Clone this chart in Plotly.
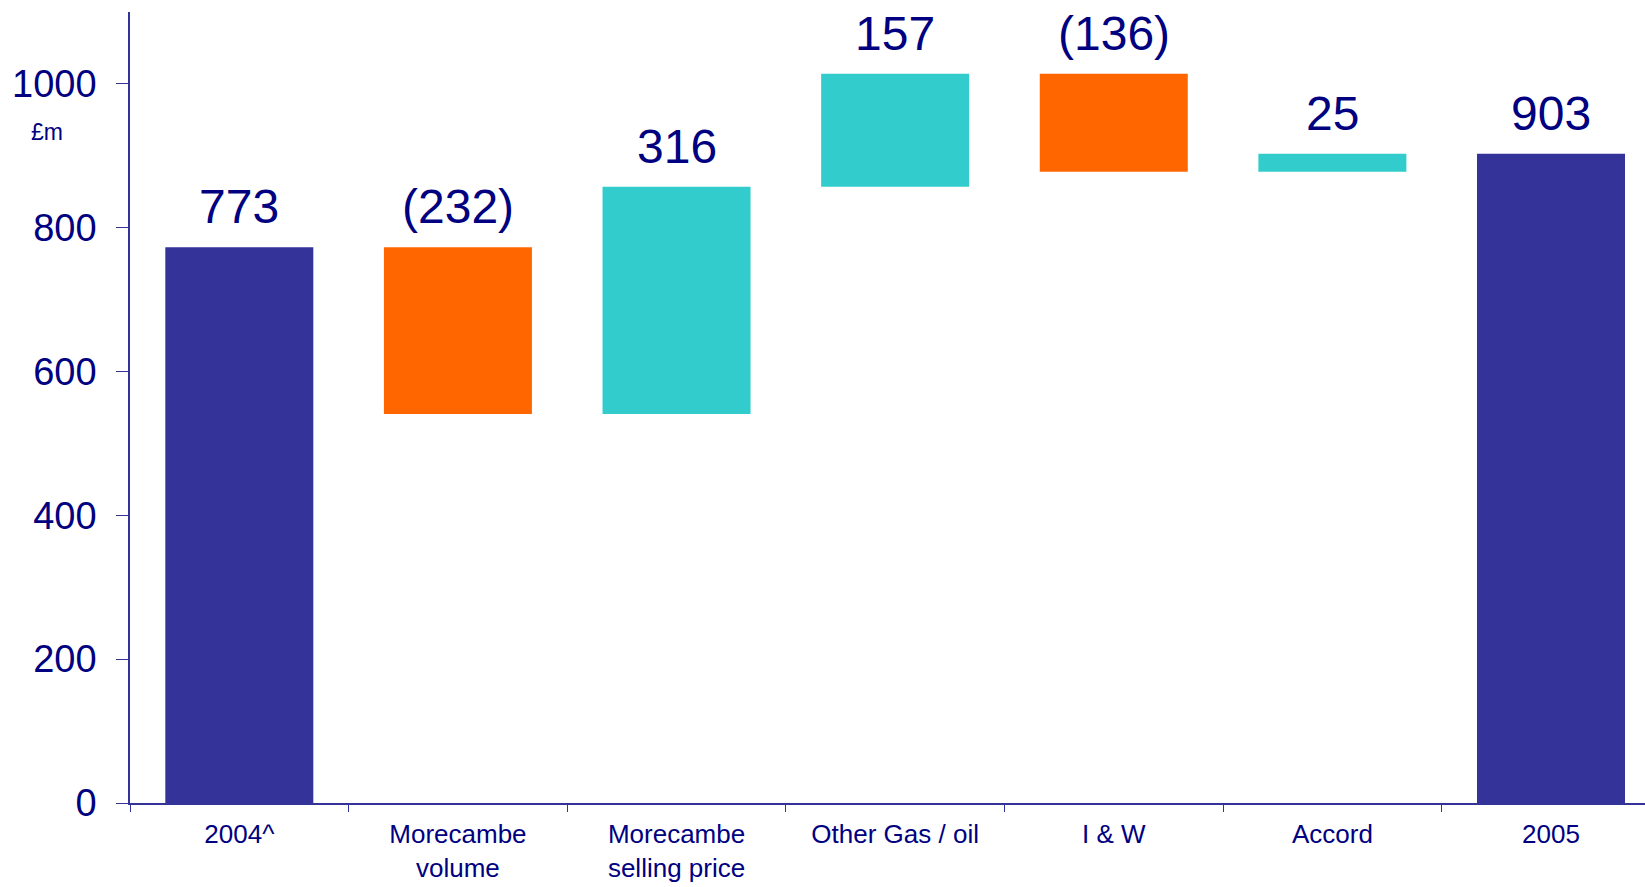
import plotly.graph_objects as go

# Operating profit bridge, £m
categories = ["2004^", "Morecambe<br>volume", "Morecambe<br>selling price",
              "Other Gas / oil", "I & W", "Accord", "2005"]
opening_total = 773
changes = [-232, 316, 157, -136, 25]
closing_total = 903
y_ticks = [0, 200, 400, 600, 800, 1000]

TOTAL_COL = "#333399"
UP_COL = "#33CCCC"
DOWN_COL = "#FF6600"
TEXT_COL = "#000080"
AXIS_COL = "#333399"
FONT = "Liberation Sans, Arial, sans-serif"

# Build floating bar bases / heights for the bridge
bases, heights, colors, labels, tops = [], [], [], [], []
bases.append(0); heights.append(opening_total); colors.append(TOTAL_COL)
labels.append(str(opening_total)); tops.append(opening_total)
running = opening_total
for d in changes:
    new = running + d
    bases.append(min(running, new))
    heights.append(abs(d))
    colors.append(UP_COL if d > 0 else DOWN_COL)
    labels.append(str(d) if d > 0 else f"({abs(d)})")
    tops.append(max(running, new))
    running = new
bases.append(0); heights.append(closing_total); colors.append(TOTAL_COL)
labels.append(str(closing_total)); tops.append(closing_total)

fig = go.Figure()
fig.add_trace(go.Bar(
    x=categories, y=heights, base=bases, width=0.677,
    marker=dict(color=colors, line=dict(width=0)),
    hoverinfo="skip", showlegend=False,
))

# Value labels above each bar (positioned by category index)
annotations = []
for i, (top, lab) in enumerate(zip(tops, labels)):
    annotations.append(dict(
        x=i, y=top, xref="x", yref="y", text=lab, showarrow=False,
        yanchor="bottom", xanchor="center", yshift=12,
        font=dict(size=48, color=TEXT_COL, family=FONT),
    ))
annotations.append(dict(
    x=-0.055, y=933, xref="paper", yref="y", text="£m", showarrow=False,
    xanchor="center", yanchor="middle",
    font=dict(size=23, color=TEXT_COL, family=FONT),
))

fig.update_layout(
    width=1645, height=887,
    margin=dict(l=130, r=0, t=12, b=84),
    paper_bgcolor="white", plot_bgcolor="white",
    font=dict(family=FONT, color=TEXT_COL),
    annotations=annotations,
    xaxis=dict(
        type="category", range=[-0.5, 6.43],
        tickson="boundaries", ticks="outside", ticklen=7, tickcolor=AXIS_COL,
        showline=True, linecolor=AXIS_COL, linewidth=1.5,
        showgrid=False, zeroline=False, ticklabelstandoff=7,
        tickfont=dict(size=26, color=TEXT_COL, family=FONT),
    ),
    yaxis=dict(
        range=[0, 1100], tickvals=y_ticks, ticks="outside", ticklen=12,
        tickcolor=AXIS_COL, showline=True, linecolor=AXIS_COL, linewidth=1.5,
        showgrid=False, zeroline=False, ticklabelstandoff=12,
        tickfont=dict(size=38, color=TEXT_COL, family=FONT),
    ),
)

fig.write_html("out.html")
